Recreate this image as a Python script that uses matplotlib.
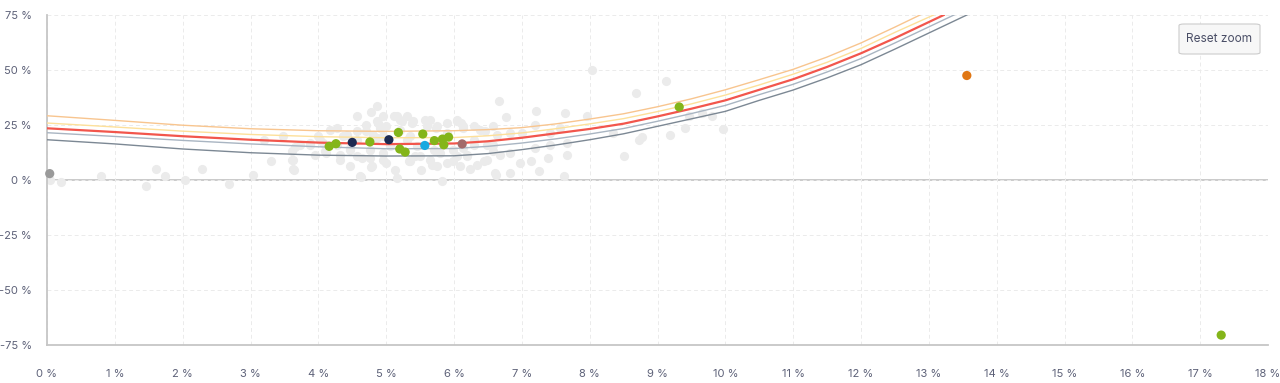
import matplotlib.pyplot as plt
from matplotlib.patches import FancyBboxPatch

plt.rcParams['font.family'] = ['Inter', 'DejaVu Sans']

# frontier curves (x = volatility %, y = return %)
curve_x = [0, 1, 2, 3, 4, 5, 6, 6.5, 7, 7.5, 8, 8.5, 9, 9.5, 10, 10.5, 11, 11.5, 12, 12.5]
orange_y = [29.2, 27.1, 24.9, 23.3, 22.4, 22.1, 22.4, 22.9, 23.8, 25.5, 27.7, 30.1, 33.3, 36.9,
            41.0, 45.6, 50.3, 55.9, 62.3, 69.5]
yellow_y = [25.9, 24.1, 22.2, 20.7, 19.7, 19.2, 19.3, 20.1, 21.4, 23.3, 25.5, 27.9, 31.1, 34.6,
            38.6, 43.2, 48.1, 53.5, 59.8, 67.1]
red_y = [23.5, 21.8, 19.9, 18.3, 17.0, 16.3, 16.6, 17.6, 19.2, 21.2, 23.2, 25.6, 28.9, 32.4,
         36.2, 41.0, 45.8, 51.4, 57.6, 64.5]
light_y = [21.5, 19.8, 18.0, 16.4, 15.1, 14.2, 14.3, 15.3, 16.8, 18.7, 20.9, 23.4, 26.7, 30.2,
           33.9, 38.8, 43.5, 49.1, 55.2, 62.3]
dark_y = [18.3, 16.4, 14.1, 12.4, 11.3, 10.9, 11.0, 12.0, 13.8, 15.9, 18.3, 21.0, 24.4, 27.8,
          31.2, 36.2, 40.9, 46.4, 52.4, 59.5]
# where each curve leaves the top of the plot
curve_end_x = {'orange': 12.87, 'yellow': 13.07, 'red': 13.22, 'light': 13.37, 'dark': 13.56}

# background universe (grey)
grey_x = [0.05, 0.2, 0.79, 1.46, 1.61, 1.74, 2.04, 2.29, 2.69, 3.04, 3.20, 3.30, 3.48, 3.62,
          3.64, 3.66, 3.63, 3.61, 3.61, 3.73, 3.88, 4.0, 3.95, 4.12, 4.07, 4.17, 4.27, 4.32,
          4.37, 4.47, 4.47, 4.57, 4.57, 4.57, 4.63, 4.71, 4.76, 4.76, 4.78, 4.78, 4.81, 4.87,
          4.88, 4.96, 4.96, 5.0, 5.0, 5.06, 5.11, 5.16, 5.20, 5.20, 5.30, 5.30, 5.33, 5.38,
          5.42, 5.45, 5.52, 5.60, 5.65, 5.65, 5.70, 5.75, 5.75, 5.83, 5.89, 5.89, 5.99, 6.04,
          6.04, 6.09, 6.11, 6.14, 6.14, 6.19, 6.24, 6.29, 6.38, 6.44, 6.58, 6.58, 6.62, 6.67,
          6.68, 6.77, 6.82, 6.83, 6.83, 6.97, 7.0, 7.14, 7.19, 7.19, 7.21, 7.25, 7.39, 7.42,
          7.42, 7.56, 7.62, 7.63, 7.66, 7.66, 7.96, 8.04, 8.35, 8.51, 8.69, 8.72, 8.77, 9.13,
          9.19, 9.40, 9.46, 9.65, 9.80, 9.96, 4.57, 4.87,
          4.96, 5.16, 5.23, 5.40, 5.57, 5.73, 5.89, 6.04, 6.14, 6.29, 6.46, 6.63, 4.02, 3.88,
          4.10, 4.32, 4.47, 4.64, 4.79, 4.61, 4.96, 5.13, 5.35, 5.50, 5.67, 5.79, 5.99, 6.19,
          6.34, 6.48, 6.60, 4.86, 5.35, 4.91, 4.71, 4.42, 4.27, 6.29, 6.48, 6.58]
grey_y = [0.2, -1.0, 1.8, -2.6, 5.1, 1.8, 0.0, 5.1, -1.8, 2.3, 18.0, 8.6, 20.1, 8.9,
          4.7, 14.8, 5.0, 9.2, 13.0, 16.0, 16.8, 19.8, 11.5, 12.3, 16.8, 22.9, 16.0, 9.2,
          19.8, 6.2, 14.5, 22.1, 10.7, 29.2, 1.4, 25.1, 10.0, 13.8, 5.7, 30.7, 20.6, 33.8,
          25.9, 12.3, 19.8, 24.4, 7.7, 15.3, 29.2, 0.9, 27.4, 22.9, 29.2, 18.3, 8.5, 25.9,
          10.7, 15.3, 4.7, 24.4, 27.4, 9.2, 13.8, 24.4, 6.2, -0.6, 7.7, 21.4, 13.8, 26.6,
          10.7, 6.2, 25.9, 24.4, 14.5, 10.7, 5.0, 18.3, 22.9, 8.5, 24.4, 16.0, 2.4, 35.7,
          11.5, 28.6, 3.2, 21.4, 12.3, 7.7, 21.4, 8.5, 25.1, 14.5, 31.2, 3.9, 10.0, 21.4,
          16.0, 23.6, 2.0, 30.5, 16.8, 11.5, 29.2, 50.1, 21.4, 10.7, 39.5, 18.3, 19.5, 44.8,
          20.3, 23.6, 28.9, 30.5, 28.9, 23.2, 18.0, 27.0,
          28.9, 28.9, 26.6, 26.6, 27.4, 23.6, 25.9, 27.4, 23.6, 24.4, 22.1, 20.6, 18.3, 16.0,
          13.0, 11.5, 13.8, 10.0, 6.2, 1.6, 9.2, 4.7, 8.5, 10.7, 7.0, 12.3, 8.5, 11.5,
          7.0, 9.2, 3.2, 19.1, 19.8, 23.6, 22.1, 20.6, 23.6, 16.0, 16.0, 13.0]

# highlighted funds
hl_x = [0.04, 4.16, 4.26, 4.50, 4.76, 5.04, 5.18, 5.20, 5.28, 5.54, 5.57, 5.71, 5.83, 5.85,
        5.92, 6.12, 9.32, 13.56, 17.31]
hl_y = [2.9, 15.3, 16.5, 17.1, 17.3, 18.3, 21.6, 14.1, 12.7, 20.9, 15.7, 17.9, 18.6, 16.0,
        19.5, 16.4, 33.2, 47.5, -70.5]
hl_colors = ['#9a9a9a', '#84b51a', '#84b51a', '#1d2a52', '#84b51a', '#1d2a52', '#84b51a',
             '#84b51a', '#84b51a', '#84b51a', '#1aa9e0', '#84b51a', '#84b51a', '#84b51a',
             '#84b51a', '#a36a6a', '#84b51a', '#e07613', '#84b51a']

x_ticks = list(range(0, 19))
x_tick_labels = [f'{v} %' for v in x_ticks]
y_ticks = [-75, -50, -25, 0, 25, 50, 75]
y_tick_labels = [f'{v} %' for v in y_ticks]

fig = plt.figure(figsize=(12.8, 3.83), dpi=100)
ax = fig.add_axes([47 / 1280, 1 - 345 / 383, 1221 / 1280, 330 / 383])

ax.scatter(grey_x, grey_y, s=44, color='#ebebeb', linewidths=0, zorder=2)

ax.plot(curve_x + [curve_end_x['orange']], orange_y + [75], color='#f8c58f', lw=1.0, zorder=3)
ax.plot(curve_x + [curve_end_x['yellow']], yellow_y + [75], color='#fde09a', lw=1.0, zorder=3)
ax.plot(curve_x + [curve_end_x['light']], light_y + [75], color='#a9b5c2', lw=1.0, zorder=3)
ax.plot(curve_x + [curve_end_x['dark']], dark_y + [75], color='#7c8894', lw=1.0, zorder=3)
ax.plot(curve_x + [curve_end_x['red']], red_y + [75], color='#f2564c', lw=1.6, zorder=3)

ax.scatter(hl_x, hl_y, s=44, c=hl_colors, linewidths=0, zorder=4, clip_on=False)

ax.set_xlim(0, 18)
ax.set_ylim(-75, 75)
ax.set_xticks(x_ticks)
ax.set_xticklabels(x_tick_labels)
ax.set_yticks(y_ticks)
ax.set_yticklabels(y_tick_labels)
ax.tick_params(length=0, labelsize=8, labelcolor='#5d6178')
ax.tick_params(axis='x', pad=17)
ax.tick_params(axis='y', pad=11)

ax.grid(True, color='#ebebeb', lw=0.7, linestyle=(0, (4, 3)), zorder=0)
ax.axhline(0, color='#c6c6c6', lw=1.3, zorder=1)
for side in ['top', 'right']:
    ax.spines[side].set_visible(False)
for side in ['left', 'bottom']:
    ax.spines[side].set_color('#c6c6c6')
    ax.spines[side].set_linewidth(1.3)

# Reset zoom button
btn = FancyBboxPatch((1179 / 1280, 1 - 54 / 383), 81 / 1280, 30 / 383,
                     boxstyle='round,pad=0,rounding_size=0.004', transform=fig.transFigure,
                     facecolor='#f7f7f7', edgecolor='#cccccc', lw=0.8)
fig.patches.append(btn)
fig.text(1219.5 / 1280, 1 - 39 / 383, 'Reset zoom', ha='center', va='center',
         fontsize=8.5, color='#4a4e66')

plt.savefig('out.png', dpi=100)
